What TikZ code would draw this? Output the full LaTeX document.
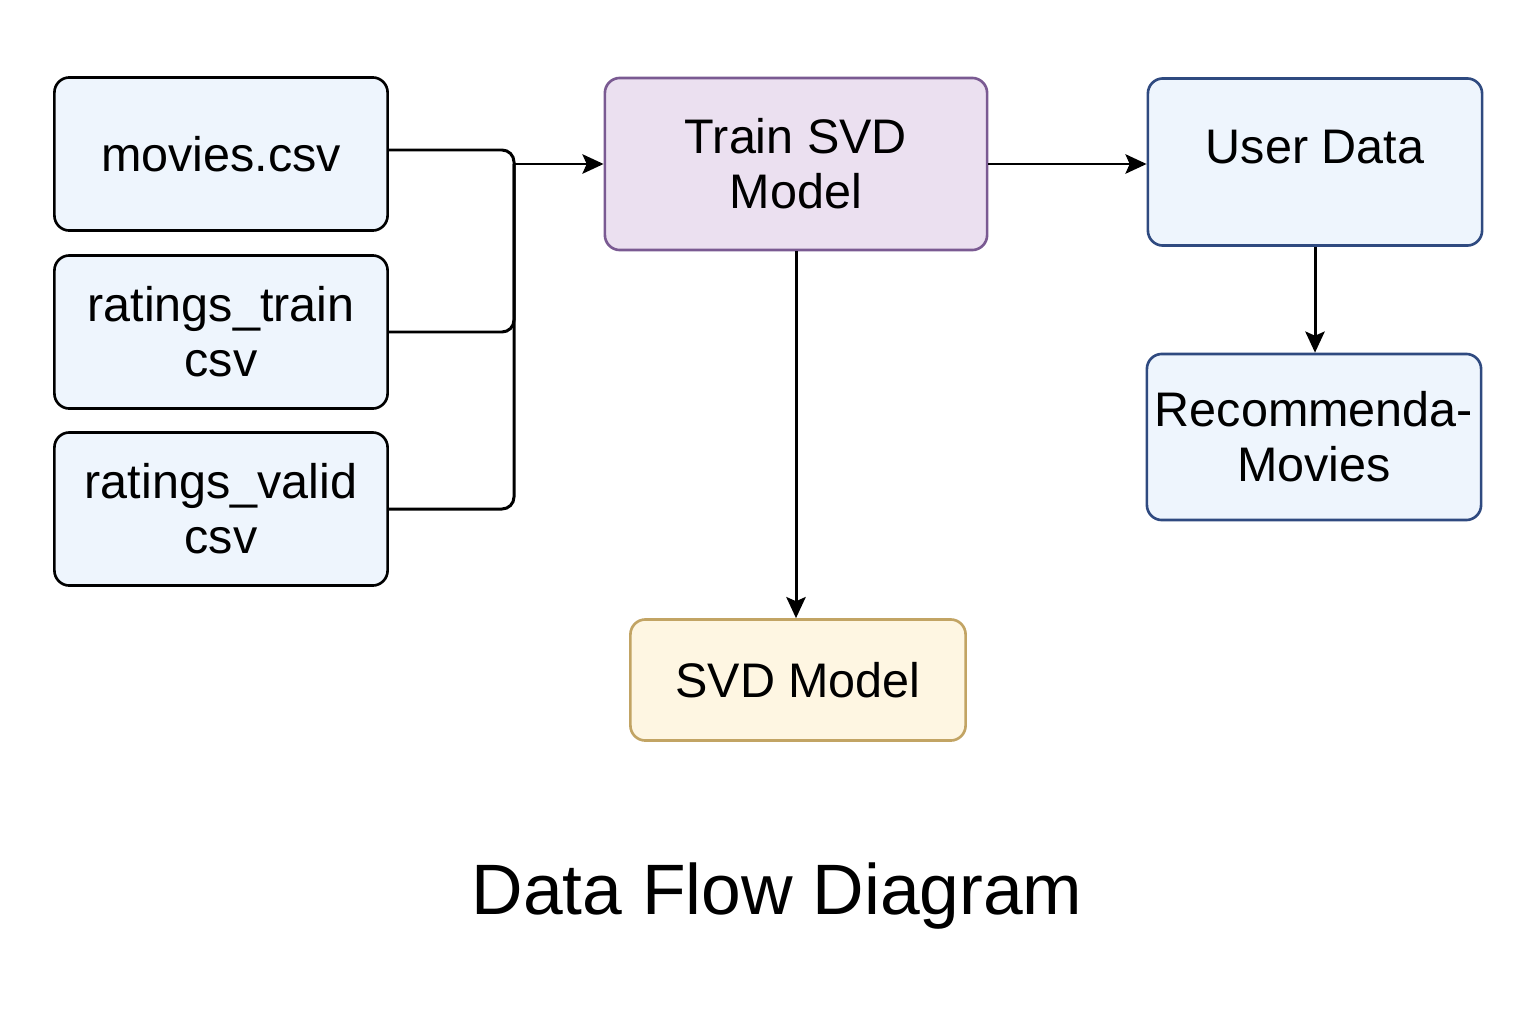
\documentclass[tikz,border=0pt]{standalone}
\usepackage{fontspec}
\setmainfont{Liberation Sans}
\usepackage{xcolor}
\usetikzlibrary{shapes,arrows,arrows.meta,positioning,calc}
\definecolor{inblue}{HTML}{EEF5FD}
\definecolor{trainfill}{HTML}{EBE0F0}
\definecolor{traindraw}{HTML}{7A5A92}
\definecolor{userdraw}{HTML}{2F4A80}
\definecolor{modelfill}{HTML}{FEF6E2}
\definecolor{modeldraw}{HTML}{C2A464}
\tikzset{
block/.style = {draw, rounded corners=0.15cm, line width=0.75pt, align=center, inner sep=2pt,
  font=\fontsize{13.8}{15.6}\selectfont},
inblock/.style = {block, fill=inblue, draw=black, minimum width=3.33cm, minimum height=1.53cm},
trainblock/.style = {block, fill=trainfill, draw=traindraw, minimum width=3.82cm, minimum height=1.72cm},
userblock/.style = {block, fill=inblue, draw=userdraw, minimum width=3.34cm, minimum height=1.67cm},
modelblock/.style = {block, fill=modelfill, draw=modeldraw, minimum width=3.35cm, minimum height=1.21cm},
tmp/.style  = {coordinate},
line/.style = {line width=0.85pt}
}
\begin{document}
\begin{tikzpicture}[x=0.01cm,y=-0.01cm,>={Stealth[length=6pt,width=5.5pt,inset=1.2pt]}]
    \useasboundingbox (0,0) rectangle (1536,1024);
    \node [inblock] (movies) at (221,154) {movies.csv};
    \node [inblock] (rtrain) at (221,332) {ratings\_train\\csv};
    \node [inblock] (rvalid) at (221,509) {ratings\_valid\\csv};
    \node [trainblock] (trainsvd) at (796,164) {Train SVD\\Model};
    \node [userblock, text depth=0.3cm] (userdata) at (1315,162) {User Data};
    \node [userblock, minimum height=1.66cm] (recmov) at (1314,437) {Recommenda-\\Movies};
    \node [modelblock] (svdmodel) at (798,680) {SVD Model};
    \node [font=\fontsize{20.3}{24}\selectfont] (title) at (777,896) {Data Flow Diagram};
    % inputs merge into one line
    \node [tmp] (bus) at (514,164) {};
    \draw [line, rounded corners=0.12cm] ([yshift=0.04cm]movies.east) -| (bus |- rvalid.east) -- (rvalid.east);
    \draw [line, rounded corners=0.12cm] (rtrain.east) -| (bus);
    \draw [line, ->] (bus) -- (trainsvd.west);
    \draw [line, ->] (trainsvd.east) -- (trainsvd.east -| userdata.west);
    \draw [line, ->] (trainsvd.south) -- (trainsvd.south |- svdmodel.north);
    \draw [line, ->] (userdata.south) -- (userdata.south |- recmov.north);
\end{tikzpicture}
\end{document}
